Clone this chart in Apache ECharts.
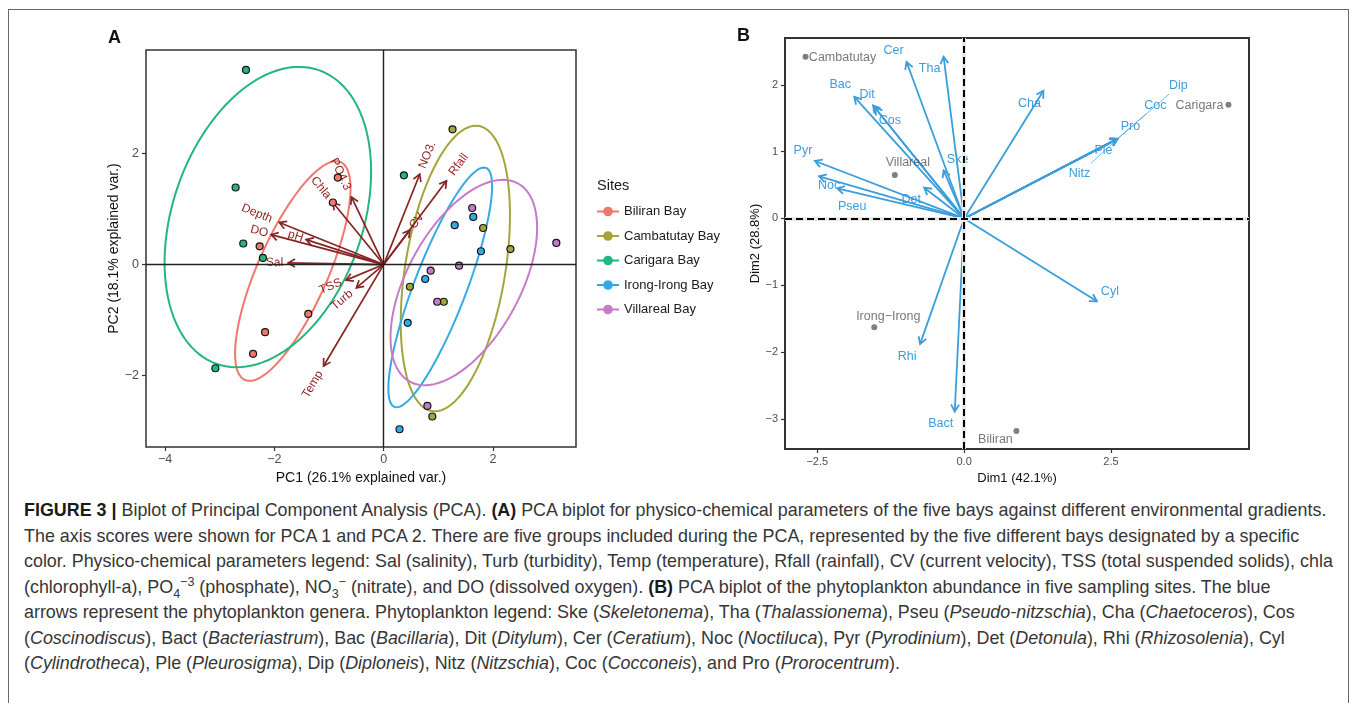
<!DOCTYPE html>
<html>
<head>
<meta charset="utf-8">
<title>Figure 3 PCA biplots</title>
<script src="https://cdn.jsdelivr.net/npm/echarts@6/dist/echarts.min.js"></script>
<style>
  html, body { margin: 0; padding: 0; background: #fff; }
  body { width: 1357px; height: 703px; position: relative; overflow: hidden;
         font-family: 'Liberation Sans', Arial, Helvetica, sans-serif; }
  #frame { position: absolute; left: 8px; top: 9px; width: 1341px; height: 720px;
           border: 1px solid #666; box-sizing: border-box; }
  #chart { position: absolute; left: 0; top: 0; width: 1357px; height: 492px; }
  #caption { position: absolute; left: 24px; top: 498px; font-size: 17.9px; line-height: 25.5px;
             color: #363636; white-space: nowrap; }
  #caption b { color: #1a1a1a; }
  #caption sub, #caption sup { font-size: 0.7em; line-height: 0; }
</style>
</head>
<body>
<div id="frame"></div>
<div id="chart"></div>
<div id="caption">
<b>FIGURE 3 |</b> Biplot of Principal Component Analysis (PCA). <b>(A)</b> PCA biplot for physico-chemical parameters of the five bays against different environmental gradients.<br>
The axis scores were shown for PCA 1 and PCA 2. There are five groups included during the PCA, represented by the five different bays designated by a specific<br>
color. Physico-chemical parameters legend: Sal (salinity), Turb (turbidity), Temp (temperature), Rfall (rainfall), CV (current velocity), TSS (total suspended solids), chla<br>
(chlorophyll-a), PO<sub>4</sub><sup>−3</sup> (phosphate), NO<sub>3</sub><sup>−</sup> (nitrate), and DO (dissolved oxygen). <b>(B)</b> PCA biplot of the phytoplankton abundance in five sampling sites. The blue<br>
arrows represent the phytoplankton genera. Phytoplankton legend: Ske (<i>Skeletonema</i>), Tha (<i>Thalassionema</i>), Pseu (<i>Pseudo-nitzschia</i>), Cha (<i>Chaetoceros</i>), Cos<br>
(<i>Coscinodiscus</i>), Bact (<i>Bacteriastrum</i>), Bac (<i>Bacillaria</i>), Dit (<i>Ditylum</i>), Cer (<i>Ceratium</i>), Noc (<i>Noctiluca</i>), Pyr (<i>Pyrodinium</i>), Det (<i>Detonula</i>), Rhi (<i>Rhizosolenia</i>), Cyl<br>
(<i>Cylindrotheca</i>), Ple (<i>Pleurosigma</i>), Dip (<i>Diploneis</i>), Nitz (<i>Nitzschia</i>), Coc (<i>Cocconeis</i>), and Pro (<i>Prorocentrum</i>).
</div>
<script>
// ---- panel A: PCA of physico-chemical parameters ----
const siteNames = ['Biliran Bay', 'Cambatutay Bay', 'Carigara Bay', 'Irong-Irong Bay', 'Villareal Bay'];
const biliranScores = [[-0.84, 1.57], [-0.93, 1.12], [-2.27, 0.33], [-1.38, -0.89], [-2.17, -1.22], [-2.39, -1.61]];
const cambatutayScores = [[1.26, 2.44], [1.82, 0.66], [2.32, 0.28], [0.48, -0.40], [1.10, -0.67], [0.89, -2.74]];
const carigaraScores = [[-2.52, 3.51], [-2.71, 1.39], [-2.57, 0.38], [-2.21, 0.12], [-3.08, -1.87], [0.37, 1.61]];
const irongScores = [[1.64, 0.86], [1.30, 0.71], [1.78, 0.24], [0.76, -0.26], [0.44, -1.05], [0.29, -2.97]];
const villarealScores = [[1.62, 1.02], [3.16, 0.39], [1.38, -0.02], [0.86, -0.11], [0.98, -0.67], [0.80, -2.55]];
const groupScores = [biliranScores, cambatutayScores, carigaraScores, irongScores, villarealScores];

const envVars = ['Depth', 'DO', 'pH', 'Chla', 'PO4.3', 'Sal', 'TSS', 'Turb', 'Temp', 'NO3.', 'Rfall', 'CV'];
const envPC1 = [-1.91, -2.06, -1.42, -0.93, -0.59, -1.75, -0.69, -0.50, -1.10, 0.66, 1.15, 0.48];
const envPC2 = [0.76, 0.54, 0.45, 1.12, 1.22, 0.03, -0.28, -0.42, -1.83, 1.63, 1.51, 0.62];

const pcTicksX = [-4, -2, 0, 2];
const pcTicksY = [-2, 0, 2];

// ---- panel B: PCA of phytoplankton abundance ----
const genera = ['Cer', 'Tha', 'Bac', 'Dit', 'Cos', 'Ske', 'Pyr', 'Noc', 'Pseu', 'Det',
  'Cha', 'Ple', 'Pro', 'Coc', 'Dip', 'Nitz', 'Cyl', 'Rhi', 'Bact'];
const genusDim1 = [-0.98, -0.35, -1.87, -1.55, -1.52, -0.35, -2.54, -2.47, -2.16, -0.68,
  1.35, 2.61, 2.61, 2.61, 2.61, 2.61, 2.26, -0.75, -0.16];
const genusDim2 = [2.34, 2.42, 1.82, 1.69, 1.66, 0.72, 0.86, 0.63, 0.45, 0.46,
  1.91, 1.19, 1.19, 1.19, 1.19, 1.19, -1.24, -1.88, -2.89];

const samplingSites = ['Cambatutay', 'Villareal', 'Carigara', 'Irong−Irong', 'Biliran'];
const siteDim1 = [-2.70, -1.18, 4.50, -1.53, 0.89];
const siteDim2 = [2.42, 0.65, 1.70, -1.63, -3.18];

const dimTicksX = [-2.5, 0, 2.5];
const dimTicksY = [-3, -2, -1, 0, 1, 2];

// styles
const FONT = "'Liberation Sans', Arial, Helvetica, sans-serif";
const siteColors = ['#F1766C', '#A3A53A', '#22B77B', '#33AAE6', '#C67BC8'];
const ARROW_A = '#862424';
const LABEL_A = '#8E1E1E';
const BLUE = '#3A9DDC';
const GREY_PT = '#5f5f5f';
// pixel shifts of the repelled labels in panel B
const genusLabelShift = {
  Cer: [-13, -12], Tha: [-14, 12], Bac: [-14, -12], Dit: [-6, -11], Cos: [15, 13],
  Ske: [14, -11], Pyr: [-12, -10], Noc: [10, 9], Pseu: [15, 18], Det: [-13, 12],
  Cha: [-14, 13], Ple: [-14, 12], Pro: [13, -12], Coc: [38, -33], Dip: [61, -53],
  Nitz: [-38, 35], Cyl: [13, -10], Rhi: [-13, 12], Bact: [-14, 12]
};
const leaderLabels = ['Coc', 'Dip', 'Nitz'];
const siteLabelShift = {
  'Cambatutay': [37, 1], 'Villareal': [13, -12], 'Carigara': [-29, 1],
  'Irong−Irong': [14, -11], 'Biliran': [-21, 9]
};

// normal data ellipse (68%) like ggbiplot
function dataEllipse(pts) {
  const n = pts.length;
  const mx = pts.reduce((a, p) => a + p[0], 0) / n;
  const my = pts.reduce((a, p) => a + p[1], 0) / n;
  let sxx = 0, syy = 0, sxy = 0;
  pts.forEach(p => {
    sxx += (p[0] - mx) * (p[0] - mx);
    syy += (p[1] - my) * (p[1] - my);
    sxy += (p[0] - mx) * (p[1] - my);
  });
  sxx /= n - 1; syy /= n - 1; sxy /= n - 1;
  const a = Math.sqrt(sxx), b = sxy / a, c = Math.sqrt(syy - b * b);
  const ed = Math.sqrt(-2 * Math.log(1 - 0.68));
  const out = [];
  for (let k = 0; k <= 120; k++) {
    const t = -Math.PI + 2 * Math.PI * k / 120;
    out.push([mx + ed * a * Math.cos(t), my + ed * (b * Math.cos(t) + c * Math.sin(t))]);
  }
  return out;
}

function arrowShapes(s, e, color, width, head) {
  const ang = Math.atan2(e[1] - s[1], e[0] - s[0]);
  const spread = Math.PI / 6;
  const p1 = [e[0] - head * Math.cos(ang - spread), e[1] - head * Math.sin(ang - spread)];
  const p2 = [e[0] - head * Math.cos(ang + spread), e[1] - head * Math.sin(ang + spread)];
  return [
    { type: 'line', shape: { x1: s[0], y1: s[1], x2: e[0], y2: e[1] }, style: { stroke: color, lineWidth: width } },
    { type: 'polyline', shape: { points: [p1, e, p2] }, style: { stroke: color, lineWidth: width, fill: null } }
  ];
}

function renderEnvArrow(params, api) {
  const name = envVars[params.dataIndex];
  const s = api.coord([0, 0]);
  const e = api.coord([api.value(0), api.value(1)]);
  const dx = e[0] - s[0], dy = e[1] - s[1];
  const len = Math.hypot(dx, dy);
  const w = name.length * 12 * 0.55;
  const children = arrowShapes(s, e, ARROW_A, 1.7, 8);
  children.push({
    type: 'text',
    x: e[0] + dx / len * 0.25 * w,
    y: e[1] + dy / len * 0.25 * w,
    rotation: Math.atan(-dy / dx),
    style: { text: name, align: dx < 0 ? 'right' : 'left', verticalAlign: 'middle',
             fill: LABEL_A, fontSize: 12, fontFamily: FONT }
  });
  return { type: 'group', children: children };
}

function renderGenusArrow(params, api) {
  const name = genera[params.dataIndex];
  const s = api.coord([0, 0]);
  const e = api.coord([api.value(0), api.value(1)]);
  const sh = genusLabelShift[name];
  const lx = e[0] + sh[0], ly = e[1] + sh[1];
  const children = arrowShapes(s, e, BLUE, 1.8, 8);
  if (leaderLabels.indexOf(name) >= 0) {
    const d = Math.hypot(sh[0], sh[1]);
    const back = name.length * 12.5 * 0.27 + 2;
    children.push({
      type: 'line',
      shape: { x1: e[0], y1: e[1], x2: lx - sh[0] / d * back, y2: ly - sh[1] / d * back },
      style: { stroke: BLUE, lineWidth: 0.7 }
    });
  }
  children.push({
    type: 'text', x: lx, y: ly,
    style: { text: name, align: 'center', verticalAlign: 'middle', fill: BLUE, fontSize: 12.5, fontFamily: FONT }
  });
  return { type: 'group', children: children };
}

const minusFmt = v => String(v).replace('-', '−');

const series = [];
// zero lines panel A
series.push({
  type: 'scatter', xAxisIndex: 0, yAxisIndex: 0, data: [], z: 1, silent: true,
  markLine: { silent: true, symbol: 'none', label: { show: false },
    lineStyle: { color: '#222', width: 1.4, type: 'solid' },
    data: [{ xAxis: 0 }, { yAxis: 0 }] }
});
siteNames.forEach((nm, i) => {
  series.push({
    name: nm, type: 'line', xAxisIndex: 0, yAxisIndex: 0, z: 2,
    data: dataEllipse(groupScores[i]), showSymbol: false, symbol: 'circle', symbolSize: 7,
    smooth: false, silent: true,
    lineStyle: { color: siteColors[i], width: 2 }, itemStyle: { color: siteColors[i] }
  });
});
series.push({
  type: 'custom', xAxisIndex: 0, yAxisIndex: 0, z: 3, silent: true,
  renderItem: renderEnvArrow,
  data: envVars.map((v, i) => [envPC1[i], envPC2[i]])
});
siteNames.forEach((nm, i) => {
  series.push({
    name: nm, type: 'scatter', xAxisIndex: 0, yAxisIndex: 0, z: 4, symbolSize: 7,
    data: groupScores[i],
    itemStyle: { color: siteColors[i], borderColor: '#151515', borderWidth: 1.2, opacity: 1 }
  });
});

// panel B zero lines
series.push({
  type: 'scatter', xAxisIndex: 1, yAxisIndex: 1, data: [], z: 1, silent: true,
  markLine: { silent: true, symbol: 'none', label: { show: false },
    lineStyle: { color: '#e8e8e8', width: 4, type: 'solid' },
    data: [{ xAxis: 0 }, { yAxis: 0 }] }
});
series.push({
  type: 'scatter', xAxisIndex: 1, yAxisIndex: 1, data: [], z: 2, silent: true,
  markLine: { silent: true, symbol: 'none', label: { show: false },
    lineStyle: { color: '#000', width: 2, type: [7, 4] },
    data: [{ xAxis: 0 }, { yAxis: 0 }] }
});
series.push({
  type: 'custom', xAxisIndex: 1, yAxisIndex: 1, z: 3, silent: true,
  renderItem: renderGenusArrow,
  data: genera.map((g, i) => [genusDim1[i], genusDim2[i]])
});
series.push({
  type: 'scatter', xAxisIndex: 1, yAxisIndex: 1, z: 4, symbolSize: 6,
  itemStyle: { color: GREY_PT },
  data: samplingSites.map((s, i) => ({
    value: [siteDim1[i], siteDim2[i]],
    label: { show: true, formatter: s, position: 'inside', offset: siteLabelShift[s],
             color: '#555', fontSize: 12.5, fontFamily: FONT }
  }))
});

const option = {
  animation: false,
  textStyle: { fontFamily: FONT },
  title: [
    { text: 'A', left: 108, top: 29, padding: 0, textStyle: { fontSize: 18, fontWeight: 'bold', color: '#111', fontFamily: FONT } },
    { text: 'B', left: 737, top: 27, padding: 0, textStyle: { fontSize: 18, fontWeight: 'bold', color: '#111', fontFamily: FONT } },
    { text: 'Sites', left: 597, top: 178, padding: 0, textStyle: { fontSize: 14.5, fontWeight: 'normal', color: '#1a1a1a', fontFamily: FONT } }
  ],
  legend: {
    data: siteNames, orient: 'vertical', left: 596, top: 205, padding: 0,
    itemWidth: 22, itemHeight: 12, itemGap: 11.5, selectedMode: false,
    textStyle: { fontSize: 13, color: '#1a1a1a', fontFamily: FONT }
  },
  grid: [
    { left: 146, top: 50, width: 430, height: 397, show: true, borderColor: '#333', borderWidth: 1.5, backgroundColor: 'transparent' },
    { left: 785, top: 38, width: 464, height: 411, show: true, borderColor: '#333', borderWidth: 2, backgroundColor: 'transparent' }
  ],
  xAxis: [
    {
      gridIndex: 0, type: 'value', min: -4.35, max: 3.52,
      name: 'PC1 (26.1% explained var.)', nameLocation: 'middle', nameGap: 20,
      nameTextStyle: { fontSize: 14, color: '#111', fontFamily: FONT },
      axisLine: { show: false, onZero: false },
      axisTick: { show: true, length: 4, customValues: pcTicksX, lineStyle: { color: '#333', width: 1.2 } },
      axisLabel: { customValues: pcTicksX, formatter: minusFmt, margin: 6, fontSize: 12.5, color: '#4d4d4d' },
      splitLine: { show: false }
    },
    {
      gridIndex: 1, type: 'value', min: -3.05, max: 4.85,
      name: 'Dim1 (42.1%)', nameLocation: 'middle', nameGap: 22,
      nameTextStyle: { fontSize: 13, color: '#111', fontFamily: FONT },
      axisLine: { show: false, onZero: false },
      axisTick: { show: true, length: 4, customValues: dimTicksX, lineStyle: { color: '#333', width: 1.2 } },
      axisLabel: { customValues: dimTicksX, formatter: v => minusFmt(v.toFixed(1)), margin: 7, fontSize: 11, color: '#4d4d4d' },
      splitLine: { show: false }
    }
  ],
  yAxis: [
    {
      gridIndex: 0, type: 'value', min: -3.29, max: 3.87,
      name: 'PC2 (18.1% explained var.)', nameLocation: 'middle', nameGap: 22,
      nameTextStyle: { fontSize: 14, color: '#111', fontFamily: FONT },
      axisLine: { show: false, onZero: false },
      axisTick: { show: true, length: 4, customValues: pcTicksY, lineStyle: { color: '#333', width: 1.2 } },
      axisLabel: { customValues: pcTicksY, formatter: minusFmt, margin: 7, fontSize: 12.5, color: '#4d4d4d' },
      splitLine: { show: false }
    },
    {
      gridIndex: 1, type: 'value', min: -3.45, max: 2.70,
      name: 'Dim2 (28.8%)', nameLocation: 'middle', nameGap: 20,
      nameTextStyle: { fontSize: 13, color: '#111', fontFamily: FONT },
      axisLine: { show: false, onZero: false },
      axisTick: { show: true, length: 4, customValues: dimTicksY, lineStyle: { color: '#333', width: 1.2 } },
      axisLabel: { customValues: dimTicksY, formatter: minusFmt, margin: 7, fontSize: 11, color: '#4d4d4d' },
      splitLine: { show: false }
    }
  ],
  series: series
};

const chart = echarts.init(document.getElementById('chart'));
chart.setOption(option);
window.addEventListener('resize', () => chart.resize());
</script>
</body>
</html>
